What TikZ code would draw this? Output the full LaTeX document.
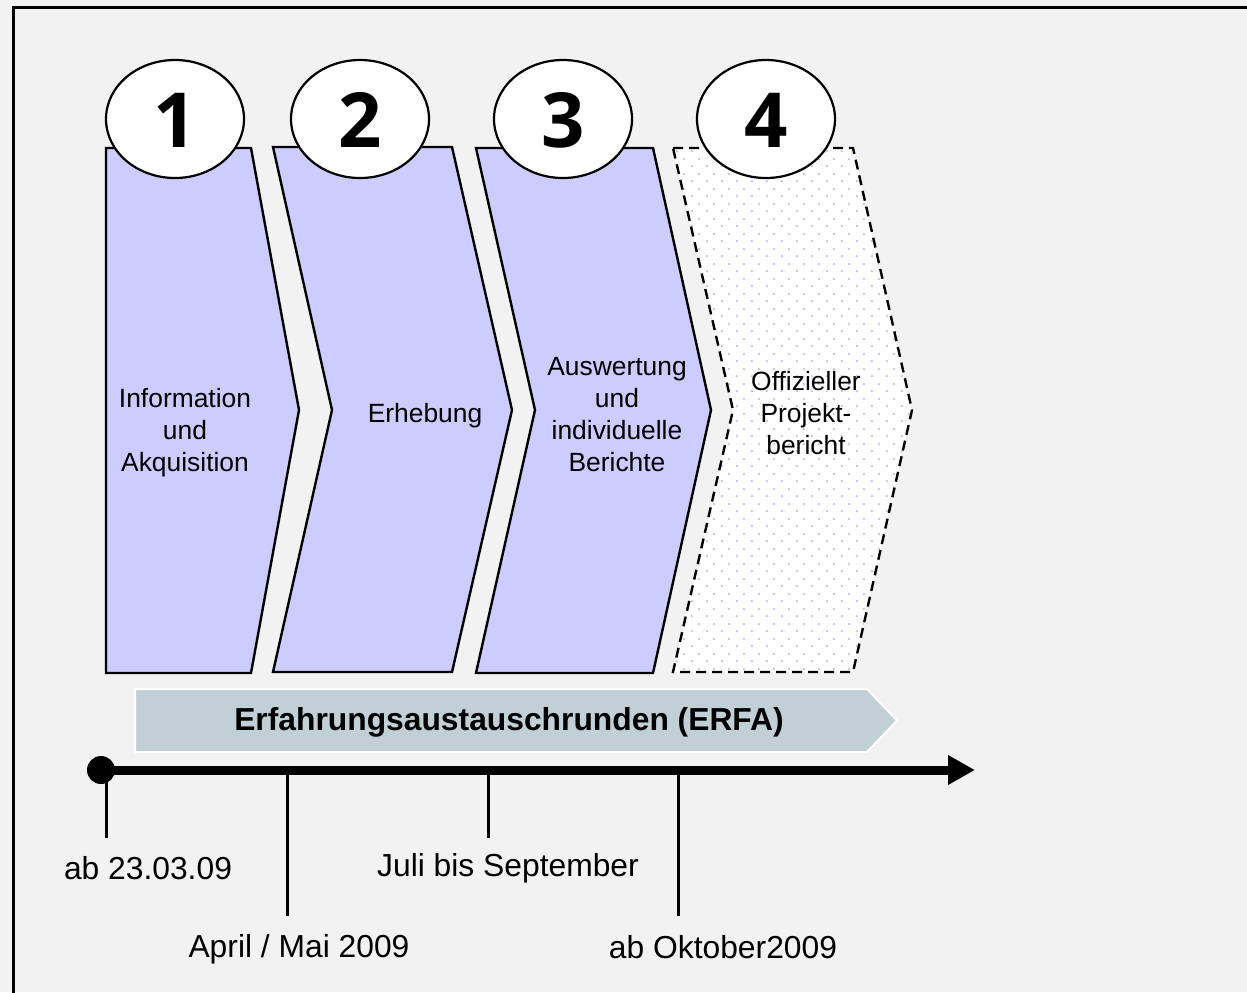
\documentclass[tikz,border=0pt]{standalone}
\usepackage{fontspec}
\setmainfont{Liberation Sans}
\newfontfamily\numfont{Open Sans}
\usetikzlibrary{patterns.meta,arrows.meta}
\definecolor{bgc}{RGB}{242,242,242}
\definecolor{chevfill}{RGB}{204,204,255}
\definecolor{dotc}{RGB}{195,195,245}
\definecolor{erfac}{RGB}{192,208,214}
\pgfdeclarepattern{
  name=mydots, type=uncolored,
  bottom left={\pgfpoint{0pt}{0pt}}, top right={\pgfpoint{7.5pt}{7.5pt}},
  tile size={\pgfpoint{7.5pt}{7.5pt}},
  code={
    \pgfpathcircle{\pgfpoint{1pt}{1pt}}{0.7pt}
    \pgfpathcircle{\pgfpoint{4.75pt}{4.75pt}}{0.7pt}
    \pgfusepath{fill}
  }
}
\tikzset{
  chev/.style={draw=black,line width=1.2pt,fill=chevfill,line join=miter},
  chevdash/.style={draw=black,line width=1.2pt,dash pattern=on 5pt off 3pt,line join=miter},
  numtxt/.style={font=\numfont\bfseries\fontsize{38}{38}\selectfont},
  lbl/.style={align=center,font=\fontsize{13.2}{16}\selectfont},
  datelbl/.style={font=\fontsize{15.9}{19}\selectfont},
  tick/.style={line width=1.5pt},
}
\begin{document}
\begin{tikzpicture}[x=0.5pt,y=-0.5pt]
\useasboundingbox (0,0) rectangle (1247,992);
\fill[bgc] (0,0) rectangle (1247,992);
\draw[line width=1.5pt] (13.5,1000) -- (13.5,7.5) -- (1260,7.5);
% chevrons
\draw[chev] (106,148) -- (251,148) -- (299,410) -- (251,673) -- (106,673) -- cycle;
\draw[chev] (273,147) -- (452,147) -- (512,410) -- (452,672) -- (273,672) -- (332,410) -- cycle;
\draw[chev] (476,148) -- (653,148) -- (711,410) -- (653,673) -- (476,673) -- (535,410) -- cycle;
\fill[white] (673,148) -- (853,148) -- (912,410) -- (853,672) -- (673,672) -- (733,410) -- cycle;
\fill[pattern=mydots,pattern color=dotc] (673,148) -- (853,148) -- (912,410) -- (853,672) -- (673,672) -- (733,410) -- cycle;
\draw[chevdash] (673,148) -- (853,148) -- (912,410) -- (853,672) -- (673,672) -- (733,410) -- cycle;
% circles
\foreach \n/\cx in {1/175,2/360,3/563,4/766}{
  \draw[line width=1.1pt,fill=white] (\cx,119) ellipse [x radius=69,y radius=59];
  \node[numtxt] (num\n) at (\cx,120) {\n};
}
% labels
\node[lbl] (l1) at (185,433) {Information\\und\\Akquisition};
\node[lbl] (l2) at (425,416) {Erhebung};
\node[lbl] (l3) at (617,415) {Auswertung\\und\\individuelle\\Berichte};
\node[lbl] (l4) at (806,413) {Offizieller\\Projekt-\\bericht};
% ERFA bar
\draw[line width=1pt,draw=white,fill=erfac] (135,689) -- (867,689) -- (897,720.5) -- (867,752) -- (135,752) -- cycle;
\node[font=\bfseries\fontsize{15.9}{19}\selectfont] (erfa) at (509,722) {Erfahrungsaustauschrunden (ERFA)};
% timeline
\node[circle,fill=black,inner sep=0pt,minimum size=14pt] (start) at (101,770) {};
\coordinate (tend) at (975,770);
\draw[line width=4.5pt,-{Triangle[length=13.5pt,width=14pt]}] (start.center) -- (tend);
\coordinate (t1) at (106,770); \coordinate (b1) at (106,838);
\coordinate (t2) at (287,770); \coordinate (b2) at (287,916);
\coordinate (t3) at (488,770); \coordinate (b3) at (488,838);
\coordinate (t4) at (678,770); \coordinate (b4) at (678,916);
\draw[tick] (t1) -- (b1);
\draw[tick] (t2) -- (b2);
\draw[tick] (t3) -- (b3);
\draw[tick] (t4) -- (b4);
\node[datelbl] (d1) at (148,868) {ab 23.03.09};
\node[datelbl] (d2) at (299,949) {April / Mai 2009};
\node[datelbl] (d3) at (508,868) {Juli bis September};
\node[datelbl] (d4) at (723,947) {ab Oktober2009};
\end{tikzpicture}
\end{document}
